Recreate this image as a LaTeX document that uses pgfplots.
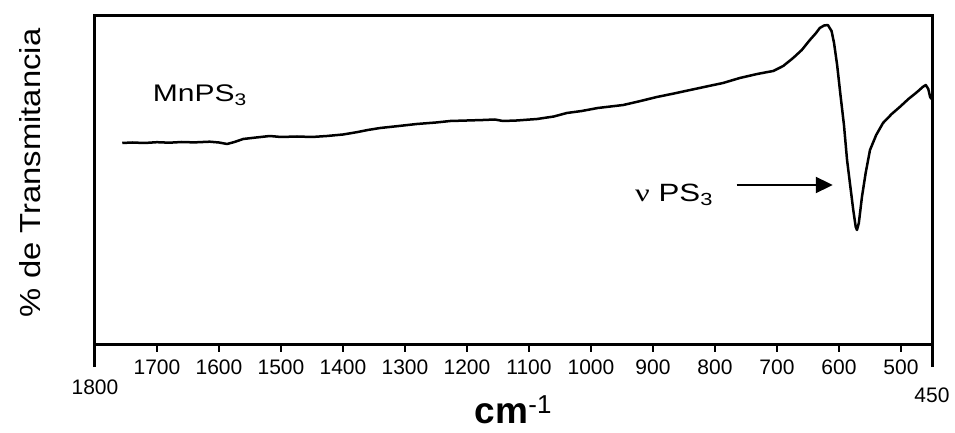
\documentclass[border=0pt]{standalone}
\usepackage{fontspec}
\setmainfont{Liberation Sans}
\newfontfamily\greekserif[FakeStretch=1.3]{Liberation Serif}
\newfontfamily\widesans[FakeStretch=1.25]{Liberation Sans}
\newfontfamily\labelsans[FakeStretch=1.13]{Liberation Sans}
\usepackage{pgfplots}
\pgfplotsset{compat=1.18}
\usetikzlibrary{arrows.meta}

\pgfplotstableread{
w y
1756 202
1740 202.5
1720 202
1700 202.8
1680 202.3
1660 203
1640 202.6
1615 203.3
1600 202.5
1587 201
1575 203
1561 206
1540 207.5
1518 209
1500 208
1474 208.5
1450 208
1426 209
1400 210.5
1376 213
1360 215
1340 217
1310 219
1281 221
1250 222.5
1227 224
1200 224.5
1174 225
1155 225.5
1142 224
1120 224.5
1087 226
1060 228.5
1039 232
1015 234
989 237
948 240
920 244
894 248
870 251
840 255
810 259
787 262
760 267
732 271
715 273
706 274
690 279
674 287
660 295
647 305
637 312
631 317
624 319.5
618 320
612 314
608 302
603 280
598 252
592 220
587 185
582 160
577 135
573 118
571 115
568 122
563 148
557 172
550 195
540 210
529 222
515 231
502 238
488 246
474 253
465 258
460 260
456 256
453 248
451 246
}\spectrum

\begin{document}
\begin{tikzpicture}
\path[use as bounding box] (-95pt,-88pt) rectangle (860pt,345pt);
\begin{axis}[
  at={(0,0)}, anchor=south west,
  scale only axis,
  width=837pt, height=329pt,
  xmin=450, xmax=1800, x dir=reverse,
  ymin=0, ymax=329,
  ytick=\empty,
  xtick={500,600,...,1700},
  extra x ticks={1800,450},
  extra x tick labels={1800,\raisebox{-8pt}{450}},
  extra x tick style={major tick length=22pt, tick style={line width=3pt},
    tick label style={yshift=-5pt}},
  xtick pos=bottom,
  tick align=outside,
  major tick length=7pt,
  tick style={line width=1.5pt, black},
  /pgf/number format/1000 sep={},
  /pgf/number format/assume math mode=true,
  xticklabel style={font=\fontsize{21}{21}\selectfont, anchor=base, yshift=-22pt},
  axis line style={line width=3pt},
  xlabel={\textbf{cm}\textsuperscript{-1}},
  xlabel style={font=\fontsize{37}{37}\selectfont, at={(axis description cs:0.5,0)}, anchor=base, yshift=-78pt},
  ylabel={\% de Transmitancia},
  ylabel style={font=\labelsans\fontsize{29}{29}\selectfont, at={(axis description cs:-0.0777,0.523)}, anchor=center},
  clip=false,
]
\addplot[black, line width=2.5pt, line join=round, no markers] table[x=w, y=y] {\spectrum};
\node[anchor=base west, inner sep=0, font=\widesans\fontsize{24}{24}\selectfont] at (axis cs:1707,243) {MnPS\textsubscript{3}};
\node[anchor=base west, inner sep=0, font=\widesans\fontsize{25}{25}\selectfont] at (axis cs:929,143) {{\greekserif ν} PS\textsubscript{3}};
\draw[line width=2pt, -{Triangle[length=17pt,width=16pt]}] (axis cs:765,160) -- (axis cs:610,160);
\end{axis}
\end{tikzpicture}
\end{document}
